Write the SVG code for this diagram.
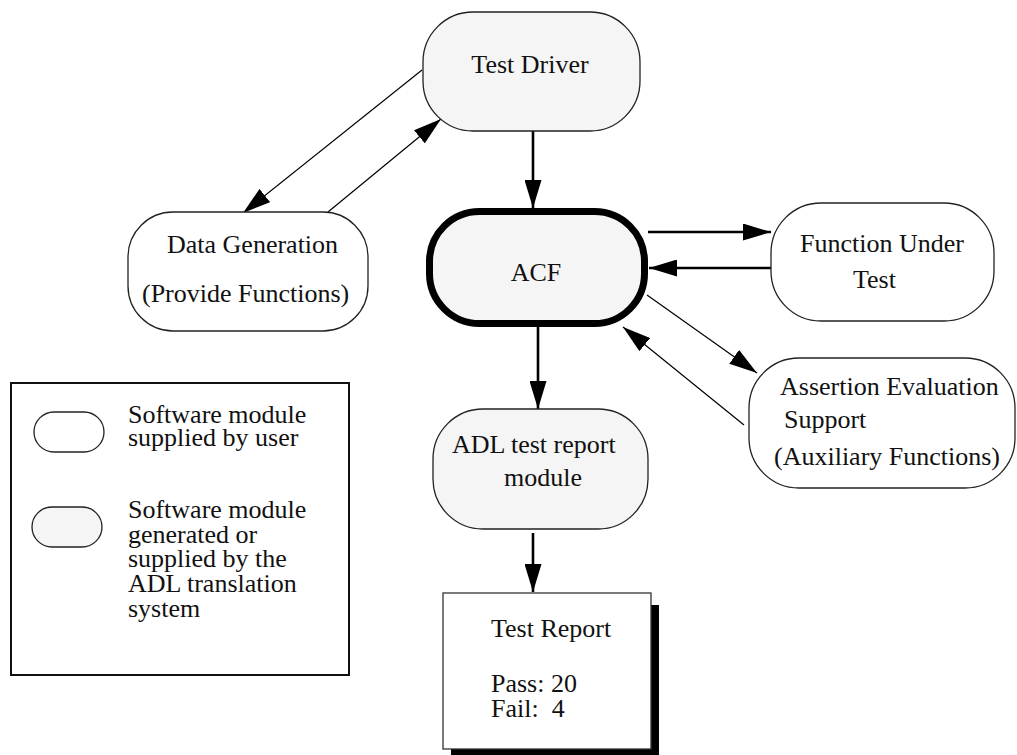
<svg xmlns="http://www.w3.org/2000/svg" width="1017" height="755" viewBox="0 0 1017 755">
  <style>
    .lbl { font-family: "Liberation Serif", "Times New Roman", serif; font-size: 26px; fill: #111; }
    .mod { stroke: #222; stroke-width: 1.3; }
    .user { fill: #ffffff; }
    .gen { fill: #f5f5f5; }
    .thick { stroke: #000; stroke-width: 2.6; fill: none; }
    .thin { stroke: #000; stroke-width: 1.2; fill: none; }
  </style>
  <defs>
    <marker id="head" markerUnits="userSpaceOnUse" markerWidth="28" markerHeight="17" refX="28" refY="8.5" orient="auto">
      <path d="M0,0 L28,8.5 L0,17 z" fill="#000"/>
    </marker>
  </defs>

  <rect x="0" y="0" width="1017" height="755" fill="#ffffff"/>

  <!-- connectors -->
  <g id="connectors">
    <line class="thin" x1="422" y1="70" x2="243" y2="213" marker-end="url(#head)"/>
    <line class="thin" x1="328" y1="212" x2="441" y2="119" marker-end="url(#head)"/>
    <line class="thick" x1="533" y1="131" x2="533" y2="208" marker-end="url(#head)"/>
    <line class="thick" x1="648" y1="232" x2="771" y2="232" marker-end="url(#head)"/>
    <line class="thick" x1="771" y1="268" x2="649" y2="268" marker-end="url(#head)"/>
    <line class="thin" x1="647" y1="295" x2="757" y2="373" marker-end="url(#head)"/>
    <line class="thin" x1="744" y1="425" x2="623" y2="327" marker-end="url(#head)"/>
    <line class="thick" x1="538" y1="327" x2="538" y2="409" marker-end="url(#head)"/>
    <line class="thick" x1="533" y1="533" x2="533" y2="592" marker-end="url(#head)"/>
  </g>

  <!-- Test Driver -->
  <g id="test-driver">
    <rect class="mod gen" x="423" y="12" width="217" height="119" rx="50" ry="50"/>
    <text class="lbl" x="530" y="73" text-anchor="middle">Test Driver</text>
  </g>

  <!-- Data Generation -->
  <g id="data-generation">
    <rect class="mod user" x="128" y="212" width="240" height="119" rx="45" ry="45"/>
    <text class="lbl" x="167" y="253">Data Generation</text>
    <text class="lbl" x="142" y="302">(Provide Functions)</text>
  </g>

  <!-- ACF -->
  <g id="acf">
    <rect x="429.5" y="211.5" width="215" height="112" rx="50" ry="50" fill="#f5f5f5" stroke="#000" stroke-width="7"/>
    <text class="lbl" x="536" y="281" text-anchor="middle">ACF</text>
  </g>

  <!-- Function Under Test -->
  <g id="function-under-test">
    <rect class="mod user" x="771" y="203" width="223" height="118" rx="50" ry="50"/>
    <text class="lbl" x="800" y="252">Function Under</text>
    <text class="lbl" x="853" y="288">Test</text>
  </g>

  <!-- Assertion Evaluation Support -->
  <g id="assertion-support">
    <rect class="mod user" x="749" y="358" width="266" height="130" rx="50" ry="50"/>
    <text class="lbl" x="780" y="395">Assertion Evaluation</text>
    <text class="lbl" x="784" y="428">Support</text>
    <text class="lbl" x="774" y="465">(Auxiliary Functions)</text>
  </g>

  <!-- ADL test report module -->
  <g id="adl-report-module">
    <rect class="mod gen" x="433" y="409" width="215" height="120" rx="50" ry="50"/>
    <text class="lbl" x="452" y="453">ADL test report</text>
    <text class="lbl" x="504" y="486">module</text>
  </g>

  <!-- Test Report -->
  <g id="test-report">
    <rect x="451" y="605" width="208" height="156" fill="#000"/>
    <rect x="443" y="593" width="208" height="156" fill="#fff" stroke="#333" stroke-width="1.3"/>
    <text class="lbl" x="491" y="637">Test Report</text>
    <text class="lbl" x="491" y="692">Pass: 20</text>
    <text class="lbl" x="491" y="717" xml:space="preserve">Fail:  4</text>
  </g>

  <!-- Legend -->
  <g id="legend">
    <rect x="11" y="383" width="338" height="292" fill="#fff" stroke="#111" stroke-width="2"/>
    <rect class="mod user" x="34" y="412" width="70" height="40" rx="20" ry="20"/>
    <text class="lbl" x="128" y="423">Software module</text>
    <text class="lbl" x="128" y="446">supplied by user</text>
    <rect class="mod gen" x="32" y="507" width="70" height="40" rx="20" ry="20"/>
    <text class="lbl" x="128" y="518">Software module</text>
    <text class="lbl" x="128" y="543">generated or</text>
    <text class="lbl" x="128" y="567">supplied by the</text>
    <text class="lbl" x="128" y="592">ADL translation</text>
    <text class="lbl" x="128" y="617">system</text>
  </g>
</svg>
